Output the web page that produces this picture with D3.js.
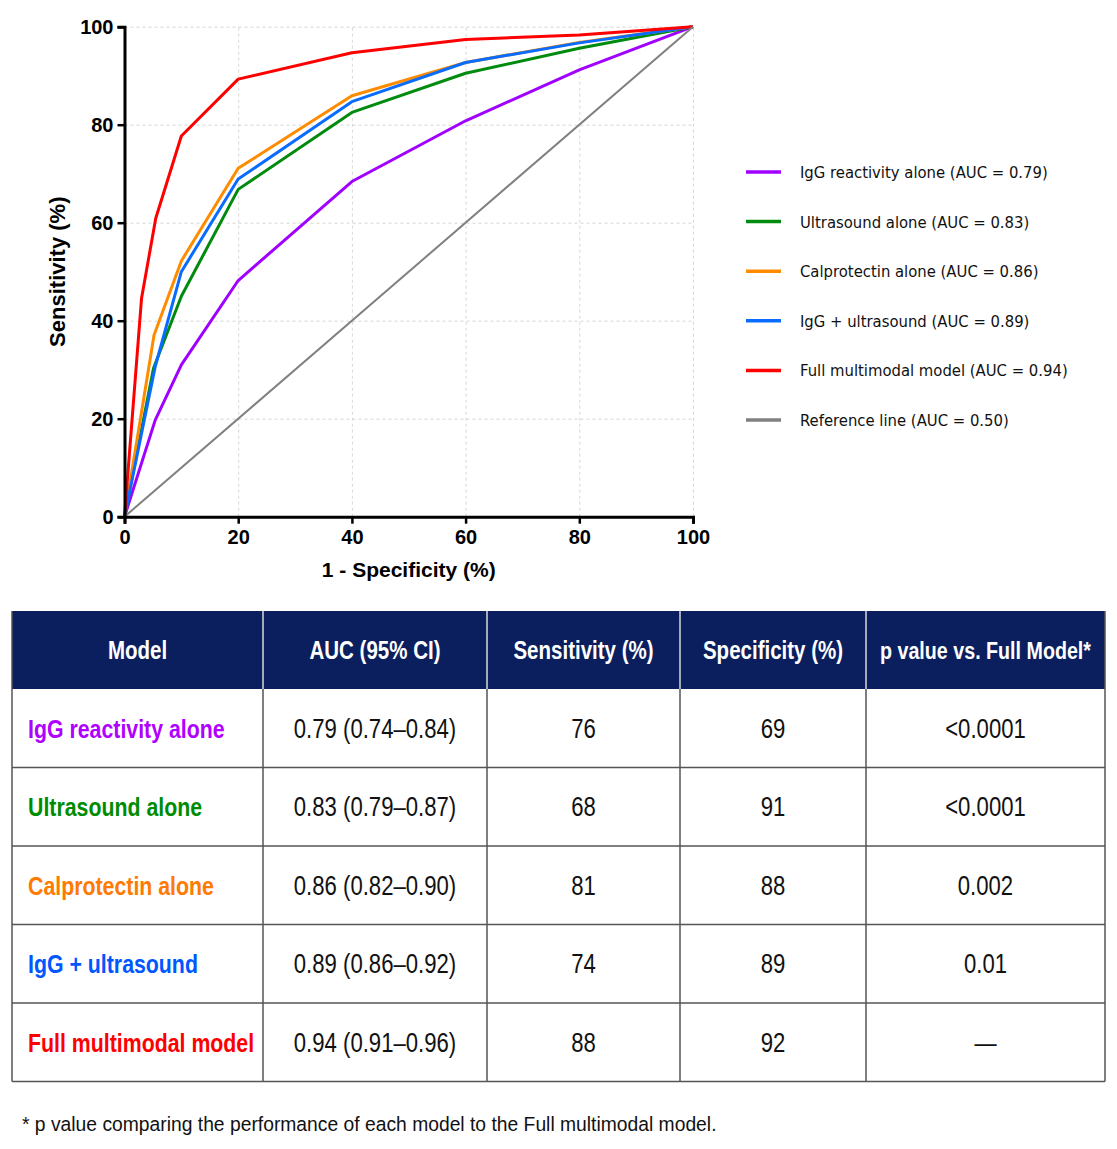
<!DOCTYPE html>
<html>
<head>
<meta charset="utf-8">
<script src="https://cdn.jsdelivr.net/npm/d3@7"></script>
<style>
  body { margin: 0; background: #fff; }
  svg { display: block; }
</style>
</head>
<body>
<div id="wrapper"></div>
<script>
// 1. Data
const xTicks = [0, 20, 40, 60, 80, 100]
const yTicks = [0, 20, 40, 60, 80, 100]

// [1 - specificity, sensitivity] pairs for each curve
const iggPoints = [[0, 0], [5.4, 19.7], [10, 31], [20, 48.2], [40, 68.4], [60, 80.8], [80, 91.2], [100, 100]]
const ultrasoundPoints = [[0, 0], [5.1, 30.3], [10, 45], [20, 66.8], [40, 82.5], [60, 90.5], [80, 95.6], [100, 100]]
const calproPoints = [[0, 0], [5.2, 37.1], [10, 52.2], [20, 71.1], [40, 85.9], [60, 92.7], [80, 96.8], [100, 100]]
const iggUsPoints = [[0, 0], [5.4, 30.6], [10, 50], [20, 68.9], [40, 84.7], [60, 92.7], [80, 96.7], [100, 100]]
const fullPoints = [[0, 0], [3, 44.6], [5.5, 60.9], [10, 77.7], [20, 89.3], [40, 94.7], [60, 97.4], [80, 98.3], [100, 100]]
const referencePoints = [[0, 0], [100, 100]]

const legendNames = ["IgG reactivity alone", "Ultrasound alone", "Calprotectin alone", "IgG + ultrasound", "Full multimodal model", "Reference line"]
const legendAuc = ["0.79", "0.83", "0.86", "0.89", "0.94", "0.50"]

const tableHeaders = ["Model", "AUC (95% CI)", "Sensitivity (%)", "Specificity (%)", "p value vs. Full Model*"]
const tableModels = ["IgG reactivity alone", "Ultrasound alone", "Calprotectin alone", "IgG + ultrasound", "Full multimodal model"]
const aucCi = ["0.79 (0.74–0.84)", "0.83 (0.79–0.87)", "0.86 (0.82–0.90)", "0.89 (0.86–0.92)", "0.94 (0.91–0.96)"]
const sensitivity = ["76", "68", "81", "74", "88"]
const specificity = ["69", "91", "88", "89", "92"]
const pValues = ["<0.0001", "<0.0001", "0.002", "0.01", "—"]

const footnote = "* p value comparing the performance of each model to the Full multimodal model."

// 2. Dimensions
const width = 1117
const height = 1149
const plot = { left: 124.5, right: 693, top: 26.7, bottom: 516.7 }

const series = [iggPoints, ultrasoundPoints, calproPoints, iggUsPoints, fullPoints, referencePoints]
const lineColors = ["#a000ff", "#008a0e", "#ff8c00", "#0a6cff", "#ff0000", "#808080"]
const nameColors = ["#b000ff", "#008c00", "#ff7a00", "#0057ff", "#ff0000"]

// 3. Canvas
const svg = d3.select("#wrapper")
  .append("svg")
  .attr("width", width)
  .attr("height", height)

svg.append("rect").attr("width", width).attr("height", height).attr("fill", "#fff")

// 4. Scales
const xScale = d3.scaleLinear().domain([0, 100]).range([plot.left, plot.right])
const yScale = d3.scaleLinear().domain([0, 100]).range([plot.bottom, plot.top])

// 5. Grid
const xGrid = svg.append("g")
  .attr("transform", `translate(0,${plot.bottom})`)
  .call(d3.axisBottom(xScale).tickValues(xTicks.slice(1)).tickSize(-(plot.bottom - plot.top)).tickFormat(""))
xGrid.select(".domain").remove()
xGrid.selectAll(".tick line").attr("stroke", "#d6d6d6").attr("stroke-dasharray", "3,3")

const yGrid = svg.append("g")
  .attr("transform", `translate(${plot.left},0)`)
  .call(d3.axisLeft(yScale).tickValues(yTicks.slice(1)).tickSize(-(plot.right - plot.left)).tickFormat(""))
yGrid.select(".domain").remove()
yGrid.selectAll(".tick line").attr("stroke", "#d6d6d6").attr("stroke-dasharray", "3,3")

// 6. Curves
const line = d3.line().x(d => xScale(d[0])).y(d => yScale(d[1]))

svg.append("g")
  .selectAll("path")
  .data(series)
  .join("path")
  .attr("d", line)
  .attr("fill", "none")
  .attr("stroke", (d, i) => lineColors[i])
  .attr("stroke-width", (d, i) => i === 5 ? 2 : 3)
  .attr("stroke-linejoin", "round")

// 7. Axes
const xAxis = svg.append("g")
  .attr("transform", `translate(0,${plot.bottom})`)
  .call(d3.axisBottom(xScale).tickValues(xTicks).tickSizeOuter(0).tickSize(7).tickPadding(6))
const yAxis = svg.append("g")
  .attr("transform", `translate(${plot.left},0)`)
  .call(d3.axisLeft(yScale).tickValues(yTicks).tickSizeOuter(0).tickSize(7).tickPadding(4))

;[xAxis, yAxis].forEach(ax => {
  ax.select(".domain").attr("stroke", "#000").attr("stroke-width", 3)
  ax.selectAll(".tick line").attr("stroke", "#000").attr("stroke-width", 2.5)
  ax.selectAll(".tick text")
    .attr("fill", "#000")
    .style("font-family", "'Liberation Sans', Arial, sans-serif")
    .style("font-size", "20px")
    .style("font-weight", "bold")
})

svg.append("text")
  .attr("x", (plot.left + plot.right) / 2)
  .attr("y", 577)
  .attr("text-anchor", "middle")
  .style("font-family", "'Liberation Sans', Arial, sans-serif")
  .style("font-size", "21px")
  .style("font-weight", "bold")
  .text("1 - Specificity (%)")

svg.append("text")
  .attr("transform", `translate(65,${(plot.top + plot.bottom) / 2}) rotate(-90)`)
  .attr("text-anchor", "middle")
  .style("font-family", "'Liberation Sans', Arial, sans-serif")
  .style("font-size", "22px")
  .style("font-weight", "bold")
  .text("Sensitivity (%)")

// 8. Legend
const legend = svg.append("g")
  .selectAll("g")
  .data(legendNames)
  .join("g")
  .attr("transform", (d, i) => `translate(746,${172 + i * 49.6})`)

legend.append("line")
  .attr("x1", 0).attr("x2", 35)
  .attr("stroke", (d, i) => lineColors[i])
  .attr("stroke-width", 3.5)

legend.append("text")
  .attr("x", 54)
  .attr("dy", "0.36em")
  .style("font-family", "'DejaVu Sans Condensed', 'DejaVu Sans', sans-serif")
  .style("font-size", "16.5px")
  .attr("fill", "#111")
  .text((d, i) => `${d} (AUC = ${legendAuc[i]})`)

// 9. Table
const colEdges = [12, 263, 487, 680, 866, 1105]
const headerTop = 611
const headerBottom = 689
const rowH = 78.5
const tableBottom = headerBottom + rowH * tableModels.length
const tableFont = "'Liberation Sans', Arial, sans-serif"
const narrow = 0.82 // the table face is a condensed one

const table = svg.append("g")

table.append("rect")
  .attr("x", colEdges[0]).attr("y", headerTop)
  .attr("width", colEdges[5] - colEdges[0]).attr("height", headerBottom - headerTop)
  .attr("fill", "#0b1f5e")

table.selectAll(".header")
  .data(tableHeaders)
  .join("g")
  .attr("class", "header")
  .attr("transform", (d, i) => `translate(${(colEdges[i] + colEdges[i + 1]) / 2},${(headerTop + headerBottom) / 2}) scale(${narrow},1)`)
  .append("text")
  .attr("dy", "0.36em")
  .attr("text-anchor", "middle")
  .attr("fill", "#fff")
  .style("font-family", tableFont)
  .style("font-size", (d, i) => i === 4 ? "24px" : "25px")
  .style("font-weight", "bold")
  .text(d => d)

const rows = tableModels.map((m, i) => [m, aucCi[i], sensitivity[i], specificity[i], pValues[i]])

const rowG = table.selectAll(".row")
  .data(rows)
  .join("g")
  .attr("class", "row")
  .attr("transform", (d, i) => `translate(0,${headerBottom + i * rowH + rowH / 2})`)

rowG.selectAll("g")
  .data((d, ri) => d.map((v, ci) => ({ v, ci, ri })))
  .join("g")
  .attr("transform", d => {
    const x = d.ci === 0 ? colEdges[0] + 16 : (colEdges[d.ci] + colEdges[d.ci + 1]) / 2
    return `translate(${x},0) scale(${narrow},1)`
  })
  .append("text")
  .attr("dy", "0.36em")
  .attr("text-anchor", d => d.ci === 0 ? "start" : "middle")
  .attr("fill", d => d.ci === 0 ? nameColors[d.ri] : "#111")
  .style("font-family", tableFont)
  .style("font-size", d => d.ci === 0 ? "26px" : "27px")
  .style("font-weight", d => d.ci === 0 ? "bold" : "normal")
  .text(d => d.v)

// grid lines of the table
const hLines = d3.range(1, tableModels.length + 1).map(i => headerBottom + i * rowH)
table.selectAll(".hline")
  .data(hLines)
  .join("line")
  .attr("class", "hline")
  .attr("x1", colEdges[0]).attr("x2", colEdges[5])
  .attr("y1", d => d).attr("y2", d => d)
  .attr("stroke", "#555").attr("stroke-width", 1.5)

table.selectAll(".vline")
  .data(colEdges)
  .join("line")
  .attr("class", "vline")
  .attr("x1", d => d).attr("x2", d => d)
  .attr("y1", headerTop)
  .attr("y2", tableBottom)
  .attr("stroke", "#555")
  .attr("stroke-width", 1.5)

table.selectAll(".vline-head")
  .data(colEdges.slice(1, 5))
  .join("line")
  .attr("class", "vline-head")
  .attr("x1", d => d).attr("x2", d => d)
  .attr("y1", headerTop).attr("y2", headerBottom)
  .attr("stroke", "#c8cbd8").attr("stroke-width", 1.5)

// 10. Footnote
svg.append("text")
  .attr("x", 22)
  .attr("y", 1131)
  .attr("fill", "#111")
  .style("font-family", "'Liberation Sans', Arial, sans-serif")
  .style("font-size", "19.3px")
  .text(footnote)
</script>
</body>
</html>
